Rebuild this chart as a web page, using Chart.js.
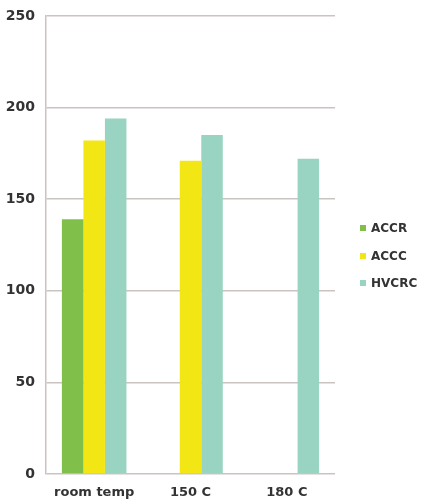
<!DOCTYPE html>
<html>
<head>
<meta charset="utf-8">
<script src="https://cdn.jsdelivr.net/npm/chart.js@4"></script>
<style>
  html,body{margin:0;padding:0;background:#fff;}
  #wrap{position:relative;width:428px;height:501px;}
  #legend{position:absolute;left:360px;top:219px;font:bold 12px "DejaVu Sans",sans-serif;color:#333;}
  #legend div{height:27.5px;line-height:18px;white-space:nowrap;}
  #legend span{display:inline-block;width:6px;height:6px;margin-right:5px;vertical-align:1px;}
</style>
</head>
<body>
<div id="wrap">
  <canvas id="c" width="428" height="501"></canvas>
  <div id="legend"></div>
</div>
<script>
const categories = ["room temp", "150 C", "180 C"];
const seriesNames = ["ACCR", "ACCC", "HVCRC"];
const accr = [139, null, null];
const accc = [182, 171, null];
const hvcrc = [194, 185, 172];
const yTicks = [0, 50, 100, 150, 200, 250];
const colors = ["#80c04a", "#f2e614", "#98d4c1"];

const seriesValues = [accr, accc, hvcrc];
const datasets = seriesNames.map((n, i) => ({
  label: n,
  data: seriesValues[i],
  backgroundColor: colors[i],
  borderWidth: 0,
  barPercentage: 1,
  categoryPercentage: 0.67
}));

const gridColor = "#cbc3c2";
new Chart(document.getElementById("c"), {
  type: "bar",
  data: { labels: categories, datasets },
  options: {
    responsive: false,
    devicePixelRatio: 1,
    animation: false,
    layout: { padding: { left: 0, top: 8, right: 93, bottom: 0 } },
    plugins: { legend: { display: false }, tooltip: { enabled: false } },
    scales: {
      x: {
        afterFit: s => { s.height = 27; },
        grid: { display: false },
        border: { display: false },
        ticks: { color: "#333", padding: 3, font: { family: "DejaVu Sans", size: 13, weight: "bold" } }
      },
      y: {
        min: 0, max: 250,
        afterFit: s => { s.width = 46; },
        afterBuildTicks: s => { s.ticks = yTicks.map(v => ({ value: v })); },
        grid: { color: gridColor, lineWidth: 1.5, drawTicks: false },
        border: { display: true, color: gridColor, width: 1.5 },
        ticks: { color: "#333", padding: 11, font: { family: "DejaVu Sans", size: 14, weight: "bold", lineHeight: 0.7 } }
      }
    }
  }
});

const lg = document.getElementById("legend");
seriesNames.forEach((n, i) => {
  const d = document.createElement("div");
  const s = document.createElement("span");
  s.style.background = colors[i];
  d.appendChild(s);
  d.appendChild(document.createTextNode(n));
  lg.appendChild(d);
});
</script>
</body>
</html>
